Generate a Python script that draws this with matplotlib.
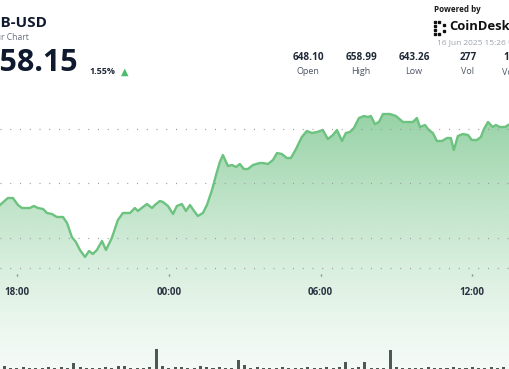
import numpy as np
import matplotlib
matplotlib.use("Agg")
import matplotlib.pyplot as plt
from matplotlib.patches import Rectangle

plt.rcParams['font.family'] = ['Open Sans', 'DejaVu Sans']

# price line, hours after 18:00
hours = [-0.67, -0.36, -0.16, 0.04, 0.20, 0.51, 0.67, 0.83, 1.03, 1.19, 1.38, 1.58, 1.82, 1.98,
         2.17, 2.33, 2.49, 2.69, 2.85, 3.00, 3.16, 3.36, 3.52, 3.75, 3.99, 4.19, 4.47, 4.66,
         4.78, 4.98, 5.14, 5.34, 5.45, 5.65, 5.77, 5.97, 6.17, 6.32, 6.52, 6.68, 6.84, 7.00,
         7.15, 7.35, 7.51, 7.71, 7.87, 8.02, 8.14, 8.34, 8.50, 8.66, 8.81, 8.97, 9.13, 9.33,
         9.60, 9.72, 9.92, 10.12, 10.28, 10.47, 10.67, 10.83, 11.03, 11.26, 11.46, 11.66,
         11.86, 12.09, 12.29, 12.49, 12.65, 12.85, 13.00, 13.16, 13.32, 13.52, 13.72, 13.87,
         13.99, 14.15, 14.31, 14.47, 14.74, 14.98, 15.26, 15.65, 15.81, 15.93, 16.13, 16.28,
         16.44, 16.60, 16.80, 17.00, 17.15, 17.27, 17.43, 17.63, 17.83, 17.98, 18.18, 18.34,
         18.46, 18.62, 18.81, 18.93, 19.09, 19.29, 19.49]
prices = [649.63, 650.40, 650.40, 649.63, 649.30, 649.30, 649.52, 649.30, 649.19, 648.75, 648.64,
          648.31, 648.31, 647.65, 646.11, 645.56, 644.68, 643.91, 644.57, 644.24, 644.68, 645.67,
          644.68, 646.00, 647.98, 648.75, 648.75, 649.30, 648.97, 649.41, 649.74, 649.30, 649.63,
          650.07, 649.96, 649.52, 648.64, 649.52, 649.74, 648.97, 649.63, 648.97, 648.42, 648.75,
          649.63, 651.28, 652.93, 654.36, 655.13, 653.92, 654.03, 653.81, 654.14, 653.59, 653.59,
          654.03, 654.25, 654.25, 654.14, 654.58, 655.35, 655.24, 654.80, 654.80, 655.79, 657.11,
          657.77, 657.55, 657.66, 657.88, 656.89, 657.33, 657.88, 656.67, 657.55, 657.66, 658.10,
          659.20, 659.42, 659.31, 659.42, 658.54, 658.76, 659.64, 659.64, 659.42, 658.76, 658.76,
          659.20, 658.21, 658.43, 657.88, 657.55, 656.67, 656.67, 657.00, 657.00, 655.68, 657.22,
          657.44, 657.33, 656.78, 656.78, 657.11, 657.99, 658.76, 658.21, 658.43, 658.21, 658.21,
          658.54]

# volume, 15 min slots
volumes = [3, 1.5, 1, 2, 1.5, 1.5, 1, 2, 1.5, 2, 1.5, 6, 2, 1.5, 1.5, 1, 2, 1.5, 3, 3,
           1.5, 1, 1.5, 2, 20, 3, 1.5, 2, 2, 1.5, 1, 3, 2, 1.5, 2, 1, 1.5, 9, 4, 1.5,
           2, 1.5, 1, 1.5, 2, 1.5, 1, 1.5, 2, 1.5, 1.5, 2, 1, 2, 7, 1.5, 2, 7, 1.5, 1,
           1.5, 19, 2, 1.5, 1.5, 1, 1.5, 2, 1.5, 1, 1.5, 2, 1.5, 1.5, 2, 1, 1.5, 2, 1.5, 2, 2]
vol_hours = np.arange(len(volumes)) * 0.25 - 0.5

tick_hours = [0, 6, 12, 18]
tick_labels = ['18:00', '00:00', '06:00', '12:00']
grid_prices = [646, 652, 658]
chart_floor = 642.7

stat_values = ['648.10', '658.99', '643.26', '277', '183K']
stat_names = ['Open', 'High', 'Low', 'Vol', 'Vol(USD)']

W, H = 510, 369
fig = plt.figure(figsize=(W / 100, H / 100), dpi=100)
fig.patch.set_facecolor('white')

def fx(px):
    return px / W

def fy(py):
    return 1 - py / H

ax = fig.add_axes([0, 0, 1, 269 / H])
ax.set_xlim(-0.67, 19.49)
ax.set_ylim(631.59, 661.18)
ax.axis('off')

green = np.array([0.30, 0.70, 0.40])
poly = ax.fill_between(hours, prices, 631.59, facecolor='none', edgecolor='none')
n = 256
s = np.linspace(1, 0, n)
grad = np.zeros((n, 1, 4))
grad[:, 0, :3] = green
grad[:, 0, 3] = 0.06 + 0.52 * s ** 1.3
img = ax.imshow(grad, extent=[-0.67, 19.49, 631.59, max(prices)], aspect='auto',
                origin='upper', zorder=1)
img.set_clip_path(poly.get_paths()[0], transform=ax.transData)

ax.plot(hours, prices, color='#6cc27f', lw=1.7, zorder=3, solid_joinstyle='round')

for gp in grid_prices + [chart_floor]:
    ax.axhline(gp, color='#9a9a9a', lw=0.9, ls=(0, (0.8, 7.0)), zorder=4)

xax = fig.add_axes([0, fy(274), 1, 0.0001], sharex=ax)
xax.set_facecolor('none')
for sp in xax.spines.values():
    sp.set_visible(False)
xax.set_yticks([])
xax.set_xticks(tick_hours)
xax.set_xticklabels(tick_labels, fontsize=7, fontweight='bold', color='#2a3140')
xax.tick_params(axis='x', length=1.5, width=1, color='#888888', pad=8, direction='out')

vax = fig.add_axes([0, 0, 1, 40 / H], sharex=ax)
vax.bar(vol_hours, volumes, width=0.12, color='#4c5a51', zorder=2)
vax.set_ylim(0, 40)
vax.axis('off')
ax.set_xlim(-0.67, 19.49)

# header
fig.text(fx(47), fy(23), 'BNB-USD', ha='right', va='center', fontsize=11, fontweight='bold', color='#0f1a2e')
fig.text(fx(29), fy(37), '24 Hour Chart', ha='right', va='center', fontsize=6.2, color='#6b7280')
fig.text(fx(78), fy(63), '658.15', ha='right', va='center', fontsize=22, fontweight='bold', color='#0f1a2e')
fig.text(fx(89), fy(72), '1.55%', ha='left', va='center', fontsize=6.5, fontweight='bold', color='#1f2937')
fig.text(fx(124.5), fy(72), '\u25b2', ha='center', va='center', fontsize=7, color='#4cbb6c',
         family=['DejaVu Sans'])

fig.text(fx(434), fy(10), 'Powered by', ha='left', va='center', fontsize=5.8, fontweight='bold', color='#1a1a1a')
fig.text(fx(449), fy(27), 'CoinDesk', ha='left', va='center', fontsize=9.4, fontweight='bold', color='#111111')
for (px, py) in [(434, 21), (434, 25), (434, 29), (434, 33), (438, 21), (438, 33), (443, 24), (443, 30)]:
    fig.patches.append(Rectangle((fx(px), fy(py) - 2.2 / H), 2.4 / W, 2.4 / H,
                                 transform=fig.transFigure, color='#111111'))
fig.text(fx(437), fy(43), '16 Jun 2025 15:26 UTC', ha='left', va='center', fontsize=6, color='#9ca3af')

stat_x = [308, 361, 414, 468]
for i in range(4):
    fig.text(fx(stat_x[i]), fy(58), stat_values[i], ha='center', va='center', fontsize=7.2,
             fontweight='bold', color='#1f2937')
    fig.text(fx(stat_x[i]), fy(72), stat_names[i], ha='center', va='center', fontsize=6.5, color='#4b5563')
fig.text(fx(503), fy(58), stat_values[4], ha='left', va='center', fontsize=7.2, fontweight='bold', color='#1f2937')
fig.text(fx(502), fy(72), stat_names[4], ha='left', va='center', fontsize=6.5, color='#4b5563')

fig.savefig('out.png', dpi=100, facecolor='white')
